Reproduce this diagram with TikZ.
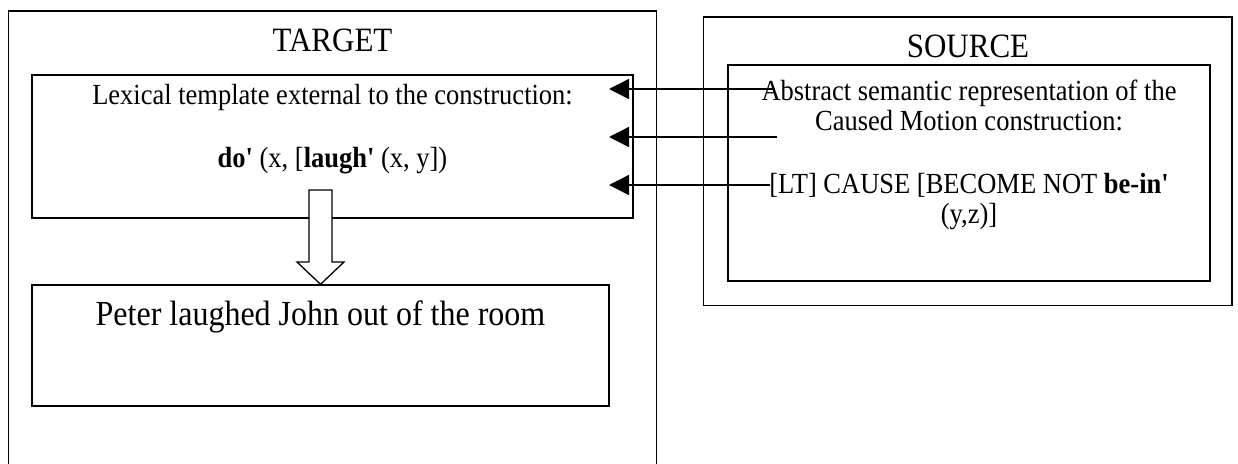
\documentclass[tikz,border=0pt]{standalone}
\usepackage{fontspec}
\setmainfont{Liberation Serif}[Ligatures=TeXOff]
\usetikzlibrary{arrows.meta}
% slightly taller lettering
\newcommand\tallt[1]{\scalebox{1}[1.1]{#1}}
\begin{document}
\begin{tikzpicture}[x=1pt,y=-1pt,
  frame/.style={draw,line width=1.4pt},
  box/.style={frame,rectangle,inner sep=0pt},
  bodytext/.style={font=\fontsize{26.5}{30.5}\selectfont,anchor=base,inner sep=0pt},
  titletext/.style={font=\fontsize{31}{36}\selectfont,anchor=base,inner sep=0pt},
  bigtext/.style={font=\fontsize{32}{37}\selectfont,anchor=base,inner sep=0pt},
  link/.style={line width=1.4pt,-{Triangle[length=20pt,width=20pt]}}]
\useasboundingbox (0,0) rectangle (1238,463);

% TARGET frame, open at the bottom
\draw[frame] (8.5,465) -- (8.5,11) -- (656.5,11) -- (656.5,465);
\node[titletext] (target) at (332.5,51) {\tallt{TARGET}};

% lexical template box
\node[box,minimum width=601pt,minimum height=143pt] (lex) at (332.5,146.5) {};
\node[bodytext] (lex1) at (332.5,104) {\tallt{Lexical template external to the construction:}};
\node[bodytext] (lex2) at (332.5,167) {\tallt{\textbf{do'} (x, [\textbf{laugh'} (x, y])}};

% resulting sentence box
\node[box,minimum width=577pt,minimum height=121pt] (peter) at (320.5,345.5) {};
\node[bigtext] (sent) at (320.5,325) {\tallt{Peter laughed John out of the room}};

% hollow block arrow from the template to the sentence
\draw[frame,line width=1.3pt,fill=white] (309,190) -- (332,190) -- (332,262) -- (344,262)
  -- (peter.north) -- (297,262) -- (309,262) -- cycle;

% SOURCE frame
\node[box,minimum width=528.5pt,minimum height=288.5pt] (srcouter) at (967.75,161.25) {};
\node[titletext] (source) at (968,57) {\tallt{SOURCE}};
\node[box,minimum width=482pt,minimum height=216pt] (srcinner) at (969,173) {};
\node[bodytext] (src1) at (969,100) {\tallt{Abstract semantic representation of the}};
\node[bodytext] (src2) at (969,130) {\tallt{Caused Motion construction:}};
\node[bodytext] (src3) at (969,193) {\tallt{[LT] CAUSE [BECOME NOT \textbf{be-in'}}};
\node[bodytext] (src4) at (969,223) {\tallt{(y,z)]}};

% mapping arrows from source to target
\coordinate (s1) at (775,89);
\coordinate (s2) at (777,137);
\coordinate (s3) at (770,185);
\coordinate (t1) at (609,89);
\coordinate (t2) at (609,137);
\coordinate (t3) at (609,185);
\draw[link] (s1) -- (t1);
\draw[link] (s2) -- (t2);
\draw[link] (s3) -- (t3);
\end{tikzpicture}
\end{document}
